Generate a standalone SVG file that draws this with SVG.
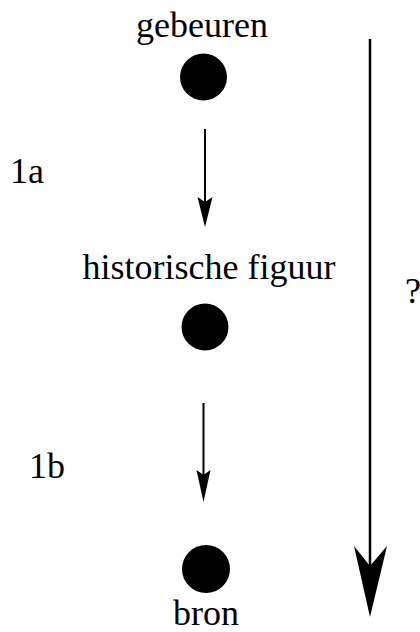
<svg xmlns="http://www.w3.org/2000/svg" width="420" height="632" viewBox="0 0 420 632">
<style>
.c{text-anchor:middle}
.ln{stroke:#000;stroke-width:2;fill:none}
.big{stroke:#000;stroke-width:2.5;fill:none}
</style>
<rect width="420" height="632" fill="#fff"/>
<g font-family="Liberation Serif, Times New Roman, serif" font-size="36" fill="#000">
<g id="node-gebeuren">
<text class="c" x="202" y="37">gebeuren</text>
<circle cx="203.5" cy="77" r="23.5" fill="#000"/>
</g>
<g id="node-historische-figuur">
<text class="c" x="209" y="279">historische figuur</text>
<circle cx="205" cy="327" r="23.5" fill="#000"/>
</g>
<g id="node-bron">
<circle cx="206" cy="569" r="24" fill="#000"/>
<text class="c" x="206" y="625">bron</text>
</g>
<g id="connectors">
<line class="ln" x1="205" y1="129" x2="205" y2="205"/>
<path d="M197.5 197 L205 202 L212.5 197 L205 227 Z" fill="#000"/>
<line class="ln" x1="203.5" y1="403" x2="203.5" y2="478"/>
<path d="M196.5 470 L203.5 475 L210.5 470 L203.5 502 Z" fill="#000"/>
<line class="big" x1="370" y1="39" x2="370" y2="570"/>
<path d="M354 546 L370 566 L387 546 L370 617 Z" fill="#000"/>
<text x="10" y="183">1a</text>
<text x="29" y="478">1b</text>
<text x="405" y="303">?</text>
</g>
</g>
</svg>
